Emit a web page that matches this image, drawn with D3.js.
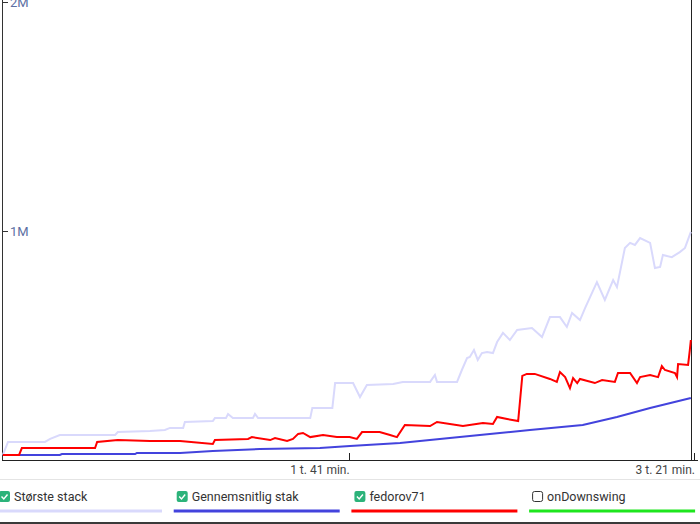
<!DOCTYPE html>
<html>
<head>
<meta charset="utf-8">
<script src="https://cdn.jsdelivr.net/npm/d3@7"></script>
<style>
  body { margin: 0; background: #fff; font-family: Roboto, "Open Sans", sans-serif; }
  svg { display: block; }
</style>
</head>
<body>
<script>
// DATA /////////////////////////////////////////////////////////////
// [minutes, chips]
var largestStack = [[0.6,22e3],[2.1,79e3],[12.8,79e3],[14.3,92e3],[17.1,109e3],[33.1,109e3],[33.9,122e3],
  [43.2,127e3],[47.5,131e3],[49,140e3],[52.8,140e3],[53.3,166e3],[61.4,170e3],[62,183e3],[65.2,183e3],
  [65.8,201e3],[67.2,183e3],[73,183e3],[73.6,201e3],[74.5,183e3],[89.6,183e3],[90.2,227e3],[96,227e3],
  [96.8,336e3],[102,336e3],[104,275e3],[106,328e3],[113.6,332e3],[116.4,341e3],[124.3,341e3],[125.7,371e3],
  [126.3,341e3],[132.1,341e3],[133.5,393e3],[135,445e3],[135.8,450e3],[137,480e3],[138.1,437e3],[139.3,467e3],
  [140.8,472e3],[142.5,467e3],[143.7,515e3],[145.4,555e3],[147.4,524e3],[149.5,568e3],[153.8,576e3],
  [156.7,537e3],[159,624e3],[161.9,624e3],[163.9,581e3],[165.4,642e3],[167.7,611e3],[169.2,664e3],
  [172.6,777e3],[174.9,699e3],[177.3,786e3],[178.4,755e3],[180.7,926e3],[182.2,948e3],[183.6,939e3],
  [185.1,969e3],[188,948e3],[189.4,838e3],[190.9,843e3],[191.7,895e3],[194.3,886e3],[196.6,908e3],
  [198.1,926e3],[199.8,996e3]];

var averageStack = [[0.6,22e3],[17.1,22e3],[17.7,26e3],[38.9,26e3],[39.4,31e3],[51.9,31e3],[61.4,39e3],
  [75,48e3],[92.4,52e3],[101.1,61e3],[115.6,74e3],[130,96e3],[144.5,118e3],[153.2,131e3],[168.5,153e3],
  [178.4,188e3],[188,227e3],[199.8,271e3]];

var fedorov71 = [[0.6,22e3],[5.3,22e3],[6.1,52e3],[27.3,52e3],[27.9,79e3],[33.9,87e3],[43.2,83e3],
  [51.9,83e3],[61.4,70e3],[62,87e3],[71.6,92e3],[72.7,100e3],[78,87e3],[79.4,96e3],[82.9,83e3],[84.6,92e3],
  [86.1,114e3],[87.5,118e3],[89.6,100e3],[93.3,109e3],[97.3,100e3],[101,100e3],[103.1,92e3],[104.6,122e3],
  [109.7,122e3],[112.7,109e3],[114.7,100e3],[117,153e3],[124.3,148e3],[126.3,166e3],[133.8,148e3],
  [139.6,162e3],[142.5,157e3],[143.7,188e3],[146.6,179e3],[149.8,170e3],[151,367e3],[152.3,376e3],
  [154.6,376e3],[159,354e3],[161,341e3],[161.9,384e3],[163.4,362e3],[164.8,314e3],[165.7,358e3],
  [166.9,336e3],[167.7,354e3],[172,336e3],[174.1,349e3],[177.8,341e3],[178.7,380e3],[182.2,380e3],
  [184.2,336e3],[185.1,362e3],[188,371e3],[190.3,362e3],[191.4,410e3],[192.3,393e3],[195.2,380e3],
  [195.8,362e3],[196.1,419e3],[199,415e3],[199.5,480e3],[199.8,524e3]];

var legendNames = ["Største stack", "Gennemsnitlig stak", "fedorov71", "onDownswing"];
var legendColors = ["#d9d9fc", "#4343dd", "#ff0000", "#1ee61e"];
var legendChecked = [true, true, true, false];

var xTicks = [101, 201];
var xTickLabels = ["1 t. 41 min.", "3 t. 21 min."];
var yTicks = [1e6, 2e6];
var yTickLabels = ["1M", "2M"];

// CANVAS ///////////////////////////////////////////////////////////
var width = 700, height = 524;
var svg = d3.select("body").append("svg").attr("width", width).attr("height", height);

var x = d3.scaleLinear().domain([0.5, 201]).range([2.5, 695]);
var y = d3.scaleLinear().domain([0, 2e6]).range([460, 2]);

// y axis
svg.append("line").attr("x1", 2.5).attr("x2", 2.5).attr("y1", 0).attr("y2", 460)
  .attr("stroke", "#333").attr("stroke-width", 1);
svg.append("g").selectAll("line.yt").data(yTicks)
  .enter().append("line").attr("class", "yt")
  .attr("x1", 2.5).attr("x2", 8)
  .attr("y1", function(d){ return y(d) + 0.5; }).attr("y2", function(d){ return y(d) + 0.5; })
  .attr("stroke", "#333");
svg.append("g").selectAll("text").data(yTicks)
  .enter().append("text")
  .attr("x", 10).attr("y", function(d){ return y(d) + 5; })
  .attr("fill", "#5d6fa3").style("font-size", "13px")
  .text(function(d,i){ return yTickLabels[i]; });

// right border
svg.append("line").attr("x1", 691.5).attr("x2", 691.5).attr("y1", 0).attr("y2", 460)
  .attr("stroke", "#222");

// x axis
svg.append("line").attr("x1", 2).attr("x2", 698).attr("y1", 460.5).attr("y2", 460.5)
  .attr("stroke", "#222");
svg.append("g").selectAll("line").data(xTicks)
  .enter().append("line")
  .attr("x1", function(d){ return Math.round(x(d)) - 0.5; })
  .attr("x2", function(d){ return Math.round(x(d)) - 0.5; })
  .attr("y1", 453).attr("y2", 460)
  .attr("stroke", "#222");
svg.append("g").selectAll("text").data(xTicks)
  .enter().append("text")
  .attr("x", function(d){ return x(d); }).attr("y", 474)
  .attr("text-anchor", "end").attr("fill", "#444").style("font-size", "12px")
  .text(function(d,i){ return xTickLabels[i]; });

// LINES ////////////////////////////////////////////////////////////
var line = d3.line().x(function(d){ return x(d[0]); }).y(function(d){ return y(d[1]); });

svg.append("path").datum(largestStack).attr("d", line)
  .attr("fill", "none").attr("stroke", legendColors[0]).attr("stroke-width", 2);
svg.append("path").datum(averageStack).attr("d", line)
  .attr("fill", "none").attr("stroke", legendColors[1]).attr("stroke-width", 2);
svg.append("path").datum(fedorov71).attr("d", line)
  .attr("fill", "none").attr("stroke", legendColors[2]).attr("stroke-width", 2);

// LEGEND ///////////////////////////////////////////////////////////
svg.append("line").attr("x1", 0).attr("x2", width).attr("y1", 479.5).attr("y2", 479.5)
  .attr("stroke", "#e4e4e4");
svg.append("rect").attr("x", 0).attr("y", 522).attr("width", width).attr("height", 2).attr("fill", "#3a3a3a");

var legend = svg.append("g").selectAll("g").data(legendNames)
  .enter().append("g")
  .attr("transform", function(d,i){ return "translate(" + (-4 + i * 177.7) + ",0)"; });

legend.append("rect").attr("class", "box")
  .attr("x", function(d,i){ return legendChecked[i] ? 3 : 3.5; })
  .attr("y", function(d,i){ return legendChecked[i] ? 491 : 491.5; })
  .attr("width", function(d,i){ return legendChecked[i] ? 11 : 10; })
  .attr("height", function(d,i){ return legendChecked[i] ? 11 : 10; })
  .attr("rx", 2)
  .attr("fill", function(d,i){ return legendChecked[i] ? "#2cb37a" : "#fff"; })
  .attr("stroke", function(d,i){ return legendChecked[i] ? "none" : "#333"; });

legend.filter(function(d,i){ return legendChecked[i]; }).append("path")
  .attr("d", "M5.5,496.5 L7.8,499 L11.5,494.5")
  .attr("fill", "none").attr("stroke", "#fff").attr("stroke-width", 1.4);

legend.append("text")
  .attr("x", 18).attr("y", 501)
  .attr("fill", "#333").style("font-size", "12.5px")
  .text(function(d){ return d; });

legend.append("rect")
  .attr("x", 0).attr("y", 509.5).attr("width", 166).attr("height", 3)
  .attr("fill", function(d,i){ return legendColors[i]; });
</script>
</body>
</html>
